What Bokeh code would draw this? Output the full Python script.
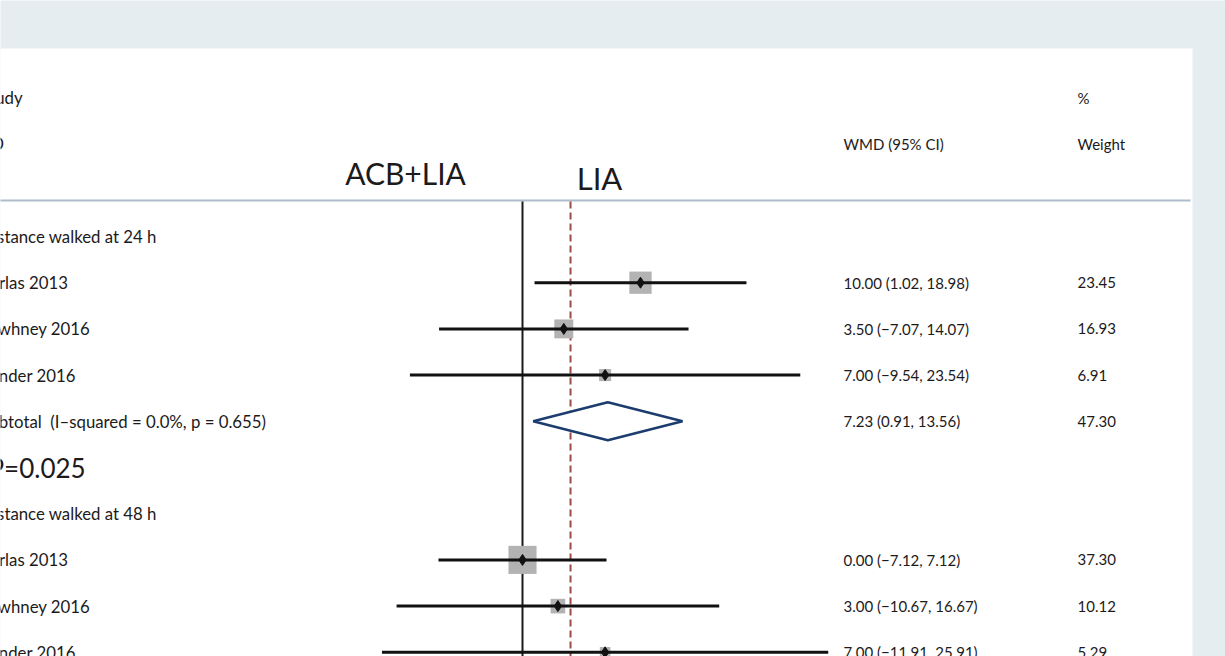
from bokeh.plotting import figure
from bokeh.models import Range1d
from bokeh.core.properties import value
from bokeh.embed import file_html
from bokeh.resources import INLINE

# ---------------- data ----------------
studies = ["Perlas 2013", "Sawhney 2016", "Sunder 2016"]
wmd_24 = [10.00, 3.50, 7.00]
lo_24 = [1.02, -7.07, -9.54]
hi_24 = [18.98, 14.07, 23.54]
wt_24 = [23.45, 16.93, 6.91]
sub_24 = [7.23, 0.91, 13.56]
sub_24_wt = 47.30
sub_24_label = "Subtotal\u00a0\u00a0(I\u2013squared = 0.0%, p = 0.655)"
p_value_label = "P=0.025"
wmd_48 = [0.00, 3.00, 7.00]
lo_48 = [-7.12, -10.67, -11.91]
hi_48 = [7.12, 16.67, 25.91]
wt_48 = [37.30, 10.12, 5.29]
overall_line = 4.07
group_labels = ["Distance walked at 24 h", "Distance walked at 48 h"]
favours = ["ACB+LIA", "LIA"]

# ---------------- layout helpers (reference pixel -> data) ----------------
X0, SX = 522.0, 11.8
Y0, SY = 236.0, 46.2
def xd(px):
    return (px - X0) / SX
def yd(py):
    return (py - Y0) / SY

W, H = 1225, 656
BG = "#e6edf1"
TXT = "#1c1a1b"
FONT = value("Lato")

p = figure(width=W, height=H,
           x_range=Range1d(xd(0), xd(W)),
           y_range=Range1d(yd(H), yd(0)),
           output_backend="svg", toolbar_location=None, min_border=0)
p.axis.visible = False
p.grid.visible = False
p.outline_line_color = None
p.background_fill_color = BG
p.border_fill_color = BG

# white panel
p.quad(left=xd(-20), right=xd(1192), top=yd(48), bottom=yd(720),
       fill_color="white", line_color=None)

# header separator
p.line(x=[xd(-20), xd(1190)], y=[yd(200), yd(200)], line_color="#aebccb", line_width=2)

# reference lines
p.line(x=[0, 0], y=[yd(201), yd(720)], line_color="#1a1a1a", line_width=2)
p.line(x=[overall_line, overall_line], y=[yd(201), yd(720)], line_color="#9c4a48",
       line_width=2, line_dash="7 4")

LX = xd(-20)
WX = xd(843)
GX = xd(1077)
LS = "16.8px"
NS = "15px"

def txt(x, y, t, size=LS, align="left"):
    p.text(x=[x], y=[y], text=[t], text_font=FONT, text_font_size=size,
           text_color=TXT, text_baseline="middle", text_align=align)

# headers
txt(LX, yd(97), "Study")
txt(xd(-14), yd(143), "ID")
txt(GX, yd(97), "%", NS)
txt(WX, yd(143), "WMD (95% CI)", NS)
txt(GX, yd(143), "Weight", NS)
txt(xd(405), yd(172), favours[0], "30px", "center")
txt(xd(599), yd(177), favours[1], "31px", "center")

def fmt(m, l, h):
    return f"{m:.2f} ({l:.2f}, {h:.2f})".replace("-", "\u2212")

def group(rows, wmd, lo, hi, wt):
    for i in range(len(wmd)):
        y = rows[i]
        txt(LX, y, studies[i])
        txt(WX, y, fmt(wmd[i], lo[i], hi[i]), NS)
        txt(GX, y, f"{wt[i]:.2f}", NS)
    sizes = [4.6 * (w ** 0.5) for w in wt]
    p.scatter(x=wmd, y=rows, size=sizes, marker="square", fill_color="#b3b3b3",
              line_color=None)
    p.segment(x0=lo, x1=hi, y0=rows, y1=rows, line_color="#111111", line_width=3)
    p.scatter(x=wmd, y=rows, size=11, marker="diamond", fill_color="#111111",
              line_color="#111111")

# group 24 h
txt(LX, 0, group_labels[0])
group([1, 2, 3], wmd_24, lo_24, hi_24, wt_24)
txt(LX, 4, sub_24_label)
txt(WX, 4, fmt(*sub_24), NS)
txt(GX, 4, f"{sub_24_wt:.2f}", NS)
h = 19.0 / SY
p.patch(x=[sub_24[1], sub_24[0], sub_24[2], sub_24[0]], y=[4, 4 - h, 4, 4 + h],
        fill_color="white", line_color="#1d3c6e", line_width=2.5)

txt(xd(-12), 5, p_value_label, "26px")

# group 48 h
txt(LX, 6, group_labels[1])
group([7, 8, 9], wmd_48, lo_48, hi_48, wt_48)

open("out.html", "w").write(file_html(p, INLINE))
